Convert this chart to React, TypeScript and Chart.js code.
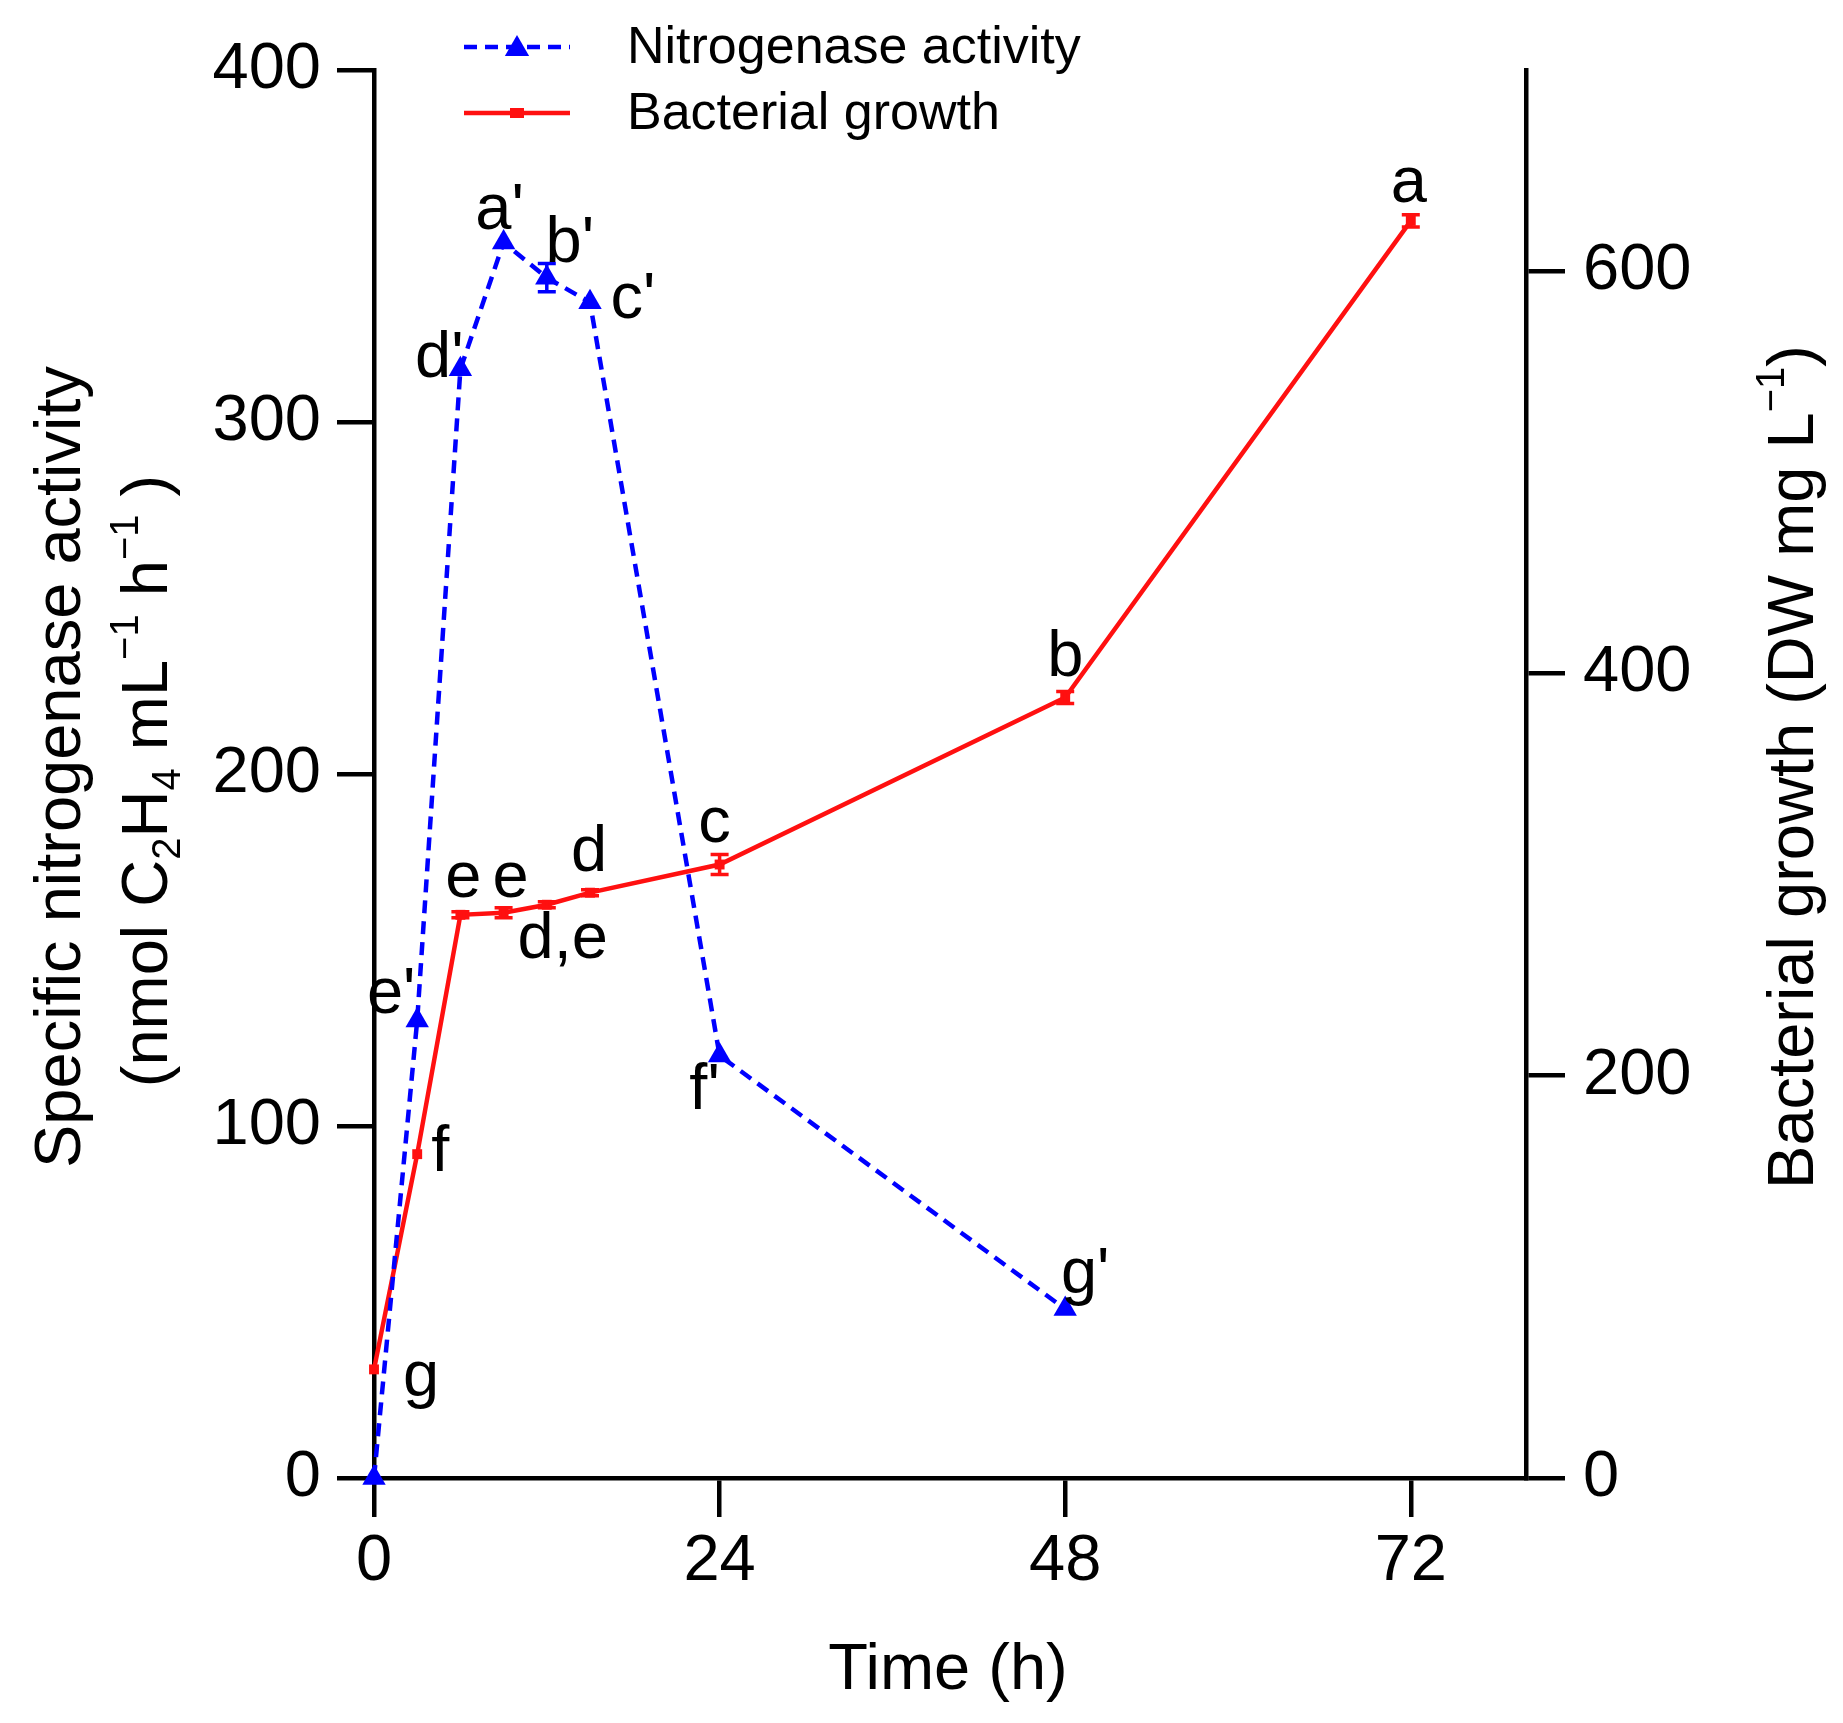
import React, { useEffect, useRef } from 'react';
import { Chart, registerables } from 'chart.js';

Chart.register(...registerables);

// ---------------- data ----------------
const nitroHours = [0, 3, 6, 9, 12, 15, 24, 48];
const nitroActivity = [0, 130, 315, 351, 341, 334, 120, 48];
const nitroError = [0, 0, 0, 0, 4, 0, 0, 0];
const nitroLetters = ['', "e'", "d'", "a'", "b'", "c'", "f'", "g'"];

const growthHours = [0, 3, 6, 9, 12, 15, 24, 48, 72];
const growthDW = [54, 161, 280, 281, 285, 291, 305, 388, 625];
const growthError = [0, 0, 1.5, 2.5, 1.5, 1.5, 5, 3, 3];
const growthLetters = ['g', 'f', 'e', 'e', 'd,e', 'd', 'c', 'b', 'a'];

const xTicks = [0, 24, 48, 72];
const leftTicks = [0, 100, 200, 300, 400];
const rightTicks = [0, 200, 400, 600];

const seriesNames = ['Nitrogenase activity', 'Bacterial growth'];
const xTitle = 'Time (h)';

type Seg = { t: string; k?: 'sub' | 'sup' };
const leftTitle1: Seg[] = [{ t: 'Specific nitrogenase activity' }];
const leftTitle2: Seg[] = [
  { t: '(nmol C' }, { t: '2', k: 'sub' }, { t: 'H' }, { t: '4', k: 'sub' },
  { t: ' mL' }, { t: '\u22121', k: 'sup' }, { t: ' h' }, { t: '\u22121', k: 'sup' }, { t: ' )' },
];
const rightTitle: Seg[] = [{ t: 'Bacterial growth (DW mg L' }, { t: '\u22121', k: 'sup' }, { t: ')' }];

// ---------------- layout / style ----------------
const W = 1843;
const H = 1723;
const FAMILY = '"Liberation Sans", Arial, Helvetica, sans-serif';
const BLUE = '#0000ff';
const RED = '#ff1010';
const FS = 65;
const AXIS_W = 4.5;

// label offsets (px from point to label centre)
const nitroLabelOffsets = [[0, 0], [-26, -25], [-21, -10], [-4, -31], [23, -34], [43, -2], [-15, 35], [20, -34]];
const growthLabelOffsets = [[47, 9], [23, -1], [3, -36], [7, -34], [16, 35], [-1, -40], [-5, -40], [0, -39], [-2, -37]];

function drawRich(ctx: CanvasRenderingContext2D, segs: Seg[], cx: number, cy: number, size: number, rotate: boolean) {
  ctx.save();
  ctx.translate(cx, cy);
  if (rotate) ctx.rotate(-Math.PI / 2);
  const small = Math.round(size * 0.62);
  let total = 0;
  const widths = segs.map((s) => {
    ctx.font = `${s.k ? small : size}px ${FAMILY}`;
    const w = ctx.measureText(s.t).width;
    total += w;
    return w;
  });
  let x = -total / 2;
  ctx.textBaseline = 'alphabetic';
  ctx.textAlign = 'left';
  ctx.fillStyle = '#000';
  segs.forEach((s, i) => {
    ctx.font = `${s.k ? small : size}px ${FAMILY}`;
    const dy = s.k === 'sub' ? size * 0.2 : s.k === 'sup' ? -size * 0.45 : 0;
    ctx.fillText(s.t, x, dy);
    x += widths[i];
  });
  ctx.restore();
}

function triangle(ctx: CanvasRenderingContext2D, x: number, y: number, r: number) {
  ctx.beginPath();
  ctx.moveTo(x, y - r);
  ctx.lineTo(x + 0.866 * r, y + 0.5 * r);
  ctx.lineTo(x - 0.866 * r, y + 0.5 * r);
  ctx.closePath();
  ctx.fill();
}

const overlay = {
  id: 'overlay',
  afterDatasetsDraw(chart: any) {
    const ctx: CanvasRenderingContext2D = chart.ctx;
    const xs = chart.scales.x;
    const groups = [
      { hours: nitroHours, vals: nitroActivity, errs: nitroError, letters: nitroLetters, offs: nitroLabelOffsets, scale: chart.scales.y, color: BLUE },
      { hours: growthHours, vals: growthDW, errs: growthError, letters: growthLetters, offs: growthLabelOffsets, scale: chart.scales.y2, color: RED },
    ];
    ctx.save();
    // error bars
    groups.forEach((g) => {
      ctx.strokeStyle = g.color;
      ctx.lineWidth = 3.5;
      ctx.setLineDash([]);
      g.hours.forEach((h, i) => {
        const e = g.errs[i];
        if (!e) return;
        const px = xs.getPixelForValue(h);
        const y1 = g.scale.getPixelForValue(g.vals[i] + e);
        const y2 = g.scale.getPixelForValue(g.vals[i] - e);
        ctx.beginPath();
        ctx.moveTo(px, y1); ctx.lineTo(px, y2);
        ctx.moveTo(px - 9, y1); ctx.lineTo(px + 9, y1);
        ctx.moveTo(px - 9, y2); ctx.lineTo(px + 9, y2);
        ctx.stroke();
      });
    });
    // letters
    ctx.fillStyle = '#000';
    ctx.font = `${FS}px ${FAMILY}`;
    ctx.textAlign = 'center';
    ctx.textBaseline = 'middle';
    groups.forEach((g) => {
      g.hours.forEach((h, i) => {
        const txt = g.letters[i];
        if (!txt) return;
        const px = xs.getPixelForValue(h);
        const py = g.scale.getPixelForValue(g.vals[i]);
        ctx.fillText(txt, px + g.offs[i][0], py + g.offs[i][1]);
      });
    });
    ctx.restore();
  },
  afterDraw(chart: any) {
    const ctx: CanvasRenderingContext2D = chart.ctx;
    ctx.save();
    // legend
    const rows = [47, 113];
    chart.data.datasets.forEach((ds: any, i: number) => {
      const y = rows[i];
      ctx.strokeStyle = ds.borderColor;
      ctx.fillStyle = ds.borderColor;
      ctx.lineWidth = ds.borderWidth;
      ctx.setLineDash(ds.borderDash || []);
      ctx.beginPath();
      ctx.moveTo(464, y);
      ctx.lineTo(570, y);
      ctx.stroke();
      ctx.setLineDash([]);
      if (ds.pointStyle === 'triangle') triangle(ctx, 517, y + 2, 14);
      else ctx.fillRect(510, y - 5, 14, 10);
      ctx.fillStyle = '#000';
      ctx.font = `52px ${FAMILY}`;
      ctx.textAlign = 'left';
      ctx.textBaseline = 'middle';
      ctx.fillText(ds.label, 627, y + 2);
    });
    ctx.restore();
    // axis titles
    drawRich(ctx, leftTitle1, 80, 767, FS, true);
    drawRich(ctx, leftTitle2, 167, 781, FS, true);
    drawRich(ctx, rightTitle, 1813, 767, FS, true);
    drawRich(ctx, [{ t: xTitle }], 948, 1689, FS, false);
  },
};

const axisCommon = (tickLength: number, padding: number) => ({
  grid: { display: true, drawOnChartArea: false, drawTicks: true, tickLength, lineWidth: AXIS_W, color: '#000' },
  border: { display: true, width: AXIS_W, color: '#000' },
  ticks: { font: { size: FS, family: FAMILY }, color: '#000', padding, autoSkip: false, maxRotation: 0 },
});

export default function App() {
  const ref = useRef<HTMLCanvasElement | null>(null);
  useEffect(() => {
    if (!ref.current) return;
    const chart = new Chart(ref.current, {
      type: 'line',
      data: {
        datasets: [
          {
            label: seriesNames[0],
            data: nitroHours.map((h, i) => ({ x: h, y: nitroActivity[i] })),
            yAxisID: 'y',
            borderColor: BLUE,
            backgroundColor: BLUE,
            borderWidth: 4.5,
            borderDash: [13, 8],
            pointStyle: 'triangle',
            pointRadius: 13.5,
            pointBorderWidth: 0,
            pointBackgroundColor: BLUE,
            pointBorderColor: BLUE,
            tension: 0,
            clip: false,
          } as any,
          {
            label: seriesNames[1],
            data: growthHours.map((h, i) => ({ x: h, y: growthDW[i] })),
            yAxisID: 'y2',
            borderColor: RED,
            backgroundColor: RED,
            borderWidth: 4.5,
            pointStyle: 'rect',
            pointRadius: 7,
            pointBorderWidth: 0,
            pointBackgroundColor: RED,
            pointBorderColor: RED,
            tension: 0,
            clip: false,
          } as any,
        ],
      },
      options: {
        responsive: false,
        animation: false,
        devicePixelRatio: 1,
        events: [],
        layout: { padding: { top: 70, left: 0, right: 0, bottom: 0 } },
        plugins: { legend: { display: false }, tooltip: { enabled: false } },
        scales: {
          x: {
            type: 'linear',
            min: 0,
            max: 80,
            afterBuildTicks: (s: any) => { s.ticks = xTicks.map((v) => ({ value: v })); },
            afterFit: (s: any) => { s.height = H - 1478; },
            ...axisCommon(39, 6),
          } as any,
          y: {
            type: 'linear',
            position: 'left',
            min: 0,
            max: 400,
            afterBuildTicks: (s: any) => { s.ticks = leftTicks.map((v) => ({ value: v })); },
            afterFit: (s: any) => { s.width = 374; },
            ...axisCommon(37, 16),
          } as any,
          y2: {
            type: 'linear',
            position: 'right',
            min: 0,
            max: 700,
            afterBuildTicks: (s: any) => { s.ticks = rightTicks.map((v) => ({ value: v })); },
            afterFit: (s: any) => { s.width = W - 1526; },
            ...axisCommon(39, 18),
          } as any,
        },
      },
      plugins: [overlay],
    });
    return () => chart.destroy();
  }, []);
  return (
    <div style={{ position: 'fixed', left: 0, top: 0, width: W, height: H, background: '#fff' }}>
      <canvas ref={ref} width={W} height={H} style={{ width: W, height: H, display: 'block' }} />
    </div>
  );
}
